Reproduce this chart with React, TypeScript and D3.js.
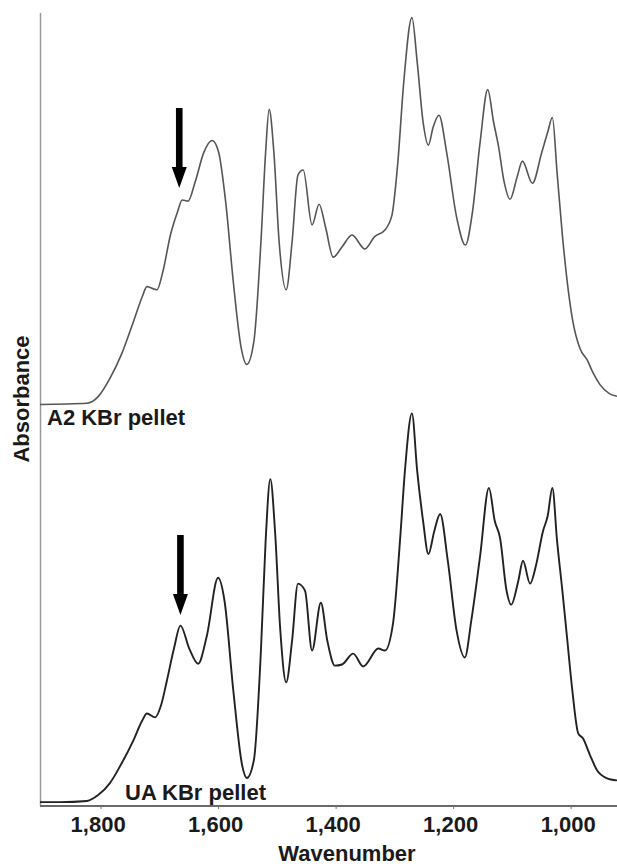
import React from "react";
import * as d3 from "d3";

const wnA2 = [1904, 1824, 1805, 1785, 1765, 1745, 1730, 1722, 1705, 1695, 1682, 1670, 1662, 1652, 1640, 1625, 1611, 1600, 1588, 1575, 1562, 1552, 1540, 1528, 1520, 1514, 1506, 1497, 1485, 1475, 1465, 1456, 1441, 1429, 1418, 1405, 1390, 1373, 1351, 1335, 1317, 1305, 1295, 1285, 1271, 1262, 1252, 1243, 1235, 1225, 1212, 1195, 1180, 1168, 1155, 1142, 1132, 1124, 1114, 1104, 1092, 1083, 1066, 1050, 1040, 1032, 1024, 1015, 998, 985, 973, 962, 951, 935, 922];
const absA2 = [0, 0.003, 0.02, 0.067, 0.13, 0.213, 0.277, 0.303, 0.295, 0.341, 0.436, 0.495, 0.526, 0.523, 0.572, 0.649, 0.679, 0.649, 0.521, 0.315, 0.149, 0.103, 0.162, 0.418, 0.649, 0.759, 0.649, 0.418, 0.295, 0.418, 0.59, 0.603, 0.462, 0.515, 0.456, 0.379, 0.405, 0.436, 0.4, 0.431, 0.449, 0.487, 0.623, 0.828, 0.995, 0.88, 0.726, 0.667, 0.713, 0.744, 0.649, 0.482, 0.41, 0.495, 0.674, 0.81, 0.726, 0.667, 0.572, 0.528, 0.585, 0.626, 0.569, 0.649, 0.7, 0.738, 0.597, 0.436, 0.221, 0.144, 0.115, 0.079, 0.051, 0.028, 0.021];

const wnUA = [1904, 1870, 1824, 1805, 1785, 1765, 1745, 1730, 1722, 1708, 1698, 1688, 1676, 1665, 1650, 1635, 1620, 1601, 1590, 1575, 1560, 1552, 1540, 1528, 1520, 1512, 1504, 1495, 1485, 1475, 1465, 1453, 1441, 1426, 1415, 1402, 1390, 1371, 1354, 1328, 1317, 1303, 1291, 1283, 1271, 1262, 1252, 1243, 1233, 1223, 1210, 1195, 1181, 1170, 1155, 1140, 1130, 1121, 1110, 1102, 1090, 1082, 1070, 1060, 1048, 1040, 1032, 1024, 1015, 1007, 998, 988, 980, 968, 956, 940, 922];
const absUA = [0, 0, 0.003, 0.018, 0.049, 0.1, 0.159, 0.21, 0.228, 0.218, 0.249, 0.313, 0.395, 0.454, 0.395, 0.356, 0.428, 0.577, 0.518, 0.287, 0.095, 0.062, 0.108, 0.39, 0.672, 0.831, 0.697, 0.441, 0.308, 0.415, 0.562, 0.544, 0.39, 0.513, 0.415, 0.351, 0.354, 0.382, 0.349, 0.395, 0.39, 0.462, 0.679, 0.851, 1.0, 0.851, 0.723, 0.638, 0.697, 0.741, 0.621, 0.441, 0.372, 0.467, 0.633, 0.808, 0.723, 0.679, 0.544, 0.508, 0.569, 0.621, 0.562, 0.608, 0.697, 0.736, 0.808, 0.672, 0.544, 0.423, 0.287, 0.177, 0.164, 0.121, 0.082, 0.062, 0.056];

const offsetA2 = 1.023;
const xTicks = [1800, 1600, 1400, 1200, 1000];
const arrowWn = [1667, 1665];
const seriesLabels = ["A2 KBr pellet", "UA KBr pellet"];

export default function App() {
  const W = 617, H = 867;
  const left = 40, right = 617, top = 13, bottom = 806;
  const x = d3.scaleLinear().domain([1904, 922]).range([left, right]);
  const y = d3.scaleLinear().domain([-0.01, 2.03]).range([bottom, top]);
  const font = "'Liberation Sans', Arial, Helvetica, sans-serif";

  const line = d3.line<[number, number]>()
    .x(d => x(d[0]))
    .y(d => y(d[1]))
    .curve(d3.curveMonotoneX);

  const dA2 = line(wnA2.map((w, i) => [w, absA2[i] + offsetA2] as [number, number]));
  const dUA = line(wnUA.map((w, i) => [w, absUA[i]] as [number, number]));

  const fmt = d3.format(",");

  const arrow = (cx: number, yTop: number, yTip: number) => {
    const headLen = 21, shaft = 3.3, head = 7.5;
    return `M${cx - shaft},${yTop} L${cx + shaft},${yTop} L${cx + shaft},${yTip - headLen} L${cx + head},${yTip - headLen} L${cx},${yTip} L${cx - head},${yTip - headLen} L${cx - shaft},${yTip - headLen} Z`;
  };

  return (
    <svg width={W} height={H} style={{ position: "absolute", left: 0, top: 0, background: "#fff" }}>
      <rect width={W} height={H} fill="#fff" />
      <line x1={left + 0.5} x2={left + 0.5} y1={top} y2={bottom} stroke="#9a9a9a" strokeWidth={1.5} />
      <line x1={left} x2={right} y1={bottom} y2={bottom} stroke="#6a6a6a" strokeWidth={2} />
      {xTicks.map(t => (
        <g key={t}>
          <line x1={x(t)} x2={x(t)} y1={bottom} y2={bottom + 3} stroke="#777" strokeWidth={1} />
          <text x={x(t) - 3} y={832} textAnchor="middle" fontFamily={font} fontWeight="bold" fontSize={22} fill="#1a1a1a">{fmt(t)}</text>
        </g>
      ))}
      <text x={347} y={861} textAnchor="middle" fontFamily={font} fontWeight="bold" fontSize={22} fill="#1a1a1a">Wavenumber</text>
      <text transform="translate(29,399) rotate(-90)" textAnchor="middle" fontFamily={font} fontWeight="bold" fontSize={22} fill="#1a1a1a">Absorbance</text>

      <path d={dA2 ?? ""} fill="none" stroke="#555" strokeWidth={1.6} />
      <path d={dUA ?? ""} fill="none" stroke="#222" strokeWidth={1.9} />

      <text x={47} y={425} fontFamily={font} fontWeight="bold" fontSize={22} fill="#1a1a1a">{seriesLabels[0]}</text>
      <text x={125} y={800} fontFamily={font} fontWeight="bold" fontSize={22} fill="#1a1a1a">{seriesLabels[1]}</text>

      <path d={arrow(x(arrowWn[0]), 108, 188)} fill="#000" />
      <path d={arrow(x(arrowWn[1]), 535, 615)} fill="#000" />
    </svg>
  );
}
